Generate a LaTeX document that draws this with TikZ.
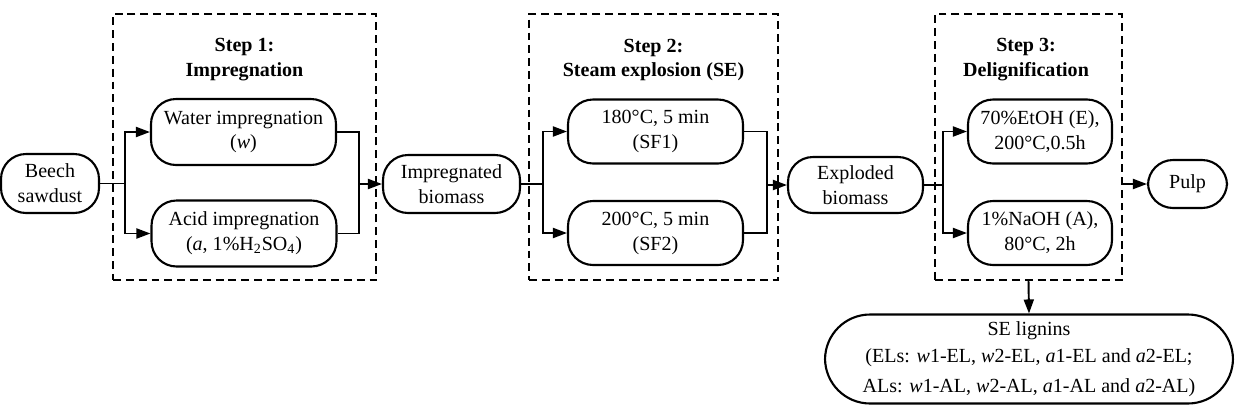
\documentclass[tikz,border=0pt]{standalone}
\usepackage{fontspec}
\setmainfont{Liberation Serif}
\usetikzlibrary{arrows.meta}

\begin{document}
\begin{tikzpicture}[x=0.02cm,y=-0.02cm,
    every node/.style={font=\fontsize{11.4pt}{14.2pt}\selectfont, align=center, inner sep=0pt},
    proc/.style={draw, line width=1.2pt, rounded corners=0.5cm},
    stepbox/.style={draw, line width=1.1pt, dash pattern=on 4.5pt off 2.8pt, minimum height=5.32cm},
    steptitle/.style={font=\fontsize{11.4pt}{14.2pt}\selectfont\bfseries},
    conn/.style={line width=1.1pt},
    arr/.style={line width=1.1pt, -{Triangle[length=2.8mm,width=2mm]}}]
        \useasboundingbox (0,0) rectangle (1240,406);
        % dashed step boxes
        \node[stepbox, minimum width=5.26cm] (s1) at (244.5,147) {};
        \node[stepbox, minimum width=4.98cm] (s2) at (653.5,147) {};
        \node[stepbox, minimum width=3.74cm] (s3) at (1028.5,147) {};
        \node[steptitle] (t1) at (244.5,60) {Step 1:\\Impregnation};
        \node[steptitle] (t2) at (653.5,60) {Step 2:\\Steam explosion (SE)};
        \node[steptitle] (t3) at (1026,60) {Step 3:\\Delignification};
        % process boxes
        \node[proc, minimum width=1.96cm, minimum height=1.18cm] (beech) at (50,183.5) {Beech\\sawdust};
        \node[proc, minimum width=3.7cm, minimum height=1.32cm] (water) at (243.5,132) {Water impregnation\\(\textit{w})};
        \node[proc, minimum width=3.7cm, minimum height=1.32cm] (acid) at (244,233.5) {Acid impregnation\\(\textit{a}, 1\%H\textsubscript{2}SO\textsubscript{4})};
        \node[proc, minimum width=2.74cm, minimum height=1.16cm] (imp) at (451.5,184) {Impregnated\\biomass};
        \node[proc, minimum width=3.5cm, minimum height=1.28cm] (sf1) at (655.5,131.5) {180°C, 5 min\\(SF1)};
        \node[proc, minimum width=3.5cm, minimum height=1.28cm] (sf2) at (655.5,233) {200°C, 5 min\\(SF2)};
        \node[proc, minimum width=2.7cm, minimum height=1.12cm] (expl) at (855.5,185) {Exploded\\biomass};
        \node[proc, minimum width=2.88cm, minimum height=1.28cm] (etoh) at (1040,131.5) {70\%EtOH (E),\\200°C,0.5h};
        \node[proc, minimum width=2.88cm, minimum height=1.28cm] (naoh) at (1040,233) {1\%NaOH (A),\\80°C, 2h};
        \node[proc, minimum width=1.58cm, minimum height=0.96cm] (pulp) at (1187.5,184) {Pulp};
        \node[proc, rounded corners=0.9cm, minimum width=8.16cm, minimum height=1.78cm] (lig) at (1029,359)
            {SE lignins\\[1pt](ELs: \textit{w}1-EL, \textit{w}2-EL, \textit{a}1-EL and \textit{a}2-EL;\\[3pt]ALs: \textit{w}1-AL, \textit{w}2-AL, \textit{a}1-AL and \textit{a}2-AL)};
        % branch and join points
        \coordinate (b1) at (125,183.5);
        \coordinate (j1) at (359,184);
        \coordinate (b2) at (543,184);
        \coordinate (j2) at (767,185);
        \coordinate (b3) at (943,185);
        % connectors
        \draw[conn] (beech.east) -- (b1);
        \draw[arr] (b1) |- (water.west);
        \draw[arr] (b1) |- (acid.west);
        \draw[conn] (water.east) -| (j1) |- (acid.east);
        \draw[arr] (j1) -- (imp.west);
        \draw[conn] (imp.east) -- (b2);
        \draw[arr] (b2) |- (sf1.west);
        \draw[arr] (b2) |- (sf2.west);
        \draw[conn] (sf1.east) -| (j2) |- (sf2.east);
        \draw[arr] (j2) -- (expl.west);
        \draw[conn] (expl.east) -- (b3);
        \draw[arr] (b3) |- (etoh.west);
        \draw[arr] (b3) |- (naoh.west);
        \draw[arr] (s3.east |- pulp.west) -- (pulp.west);
        \draw[arr] (s3.south) -- (lig.north);
      \end{tikzpicture}
\end{document}
